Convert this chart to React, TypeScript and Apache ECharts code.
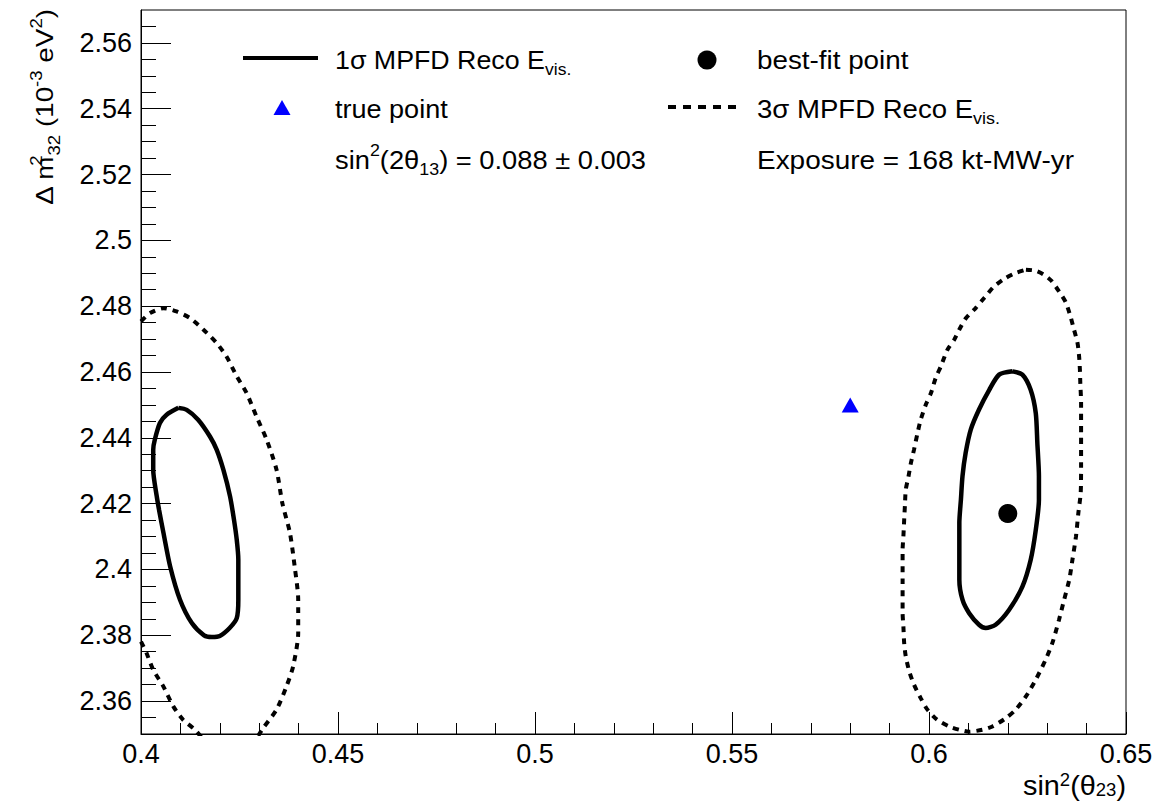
import React, { useEffect, useRef } from "react";
import * as echarts from "echarts";

// ---------- axis ticks ----------
const xMajorTicks = [0.4, 0.45, 0.5, 0.55, 0.6, 0.65];
const xMinorTicks = [0.41, 0.42, 0.43, 0.44, 0.46, 0.47, 0.48, 0.49, 0.51, 0.52, 0.53, 0.54, 0.56, 0.57, 0.58, 0.59, 0.61, 0.62, 0.63, 0.64];
const yMajorTicks = [2.36, 2.38, 2.4, 2.42, 2.44, 2.46, 2.48, 2.5, 2.52, 2.54, 2.56];
const yMinorTicks = [2.355, 2.365, 2.37, 2.375, 2.385, 2.39, 2.395, 2.405, 2.41, 2.415, 2.425, 2.43, 2.435, 2.445, 2.45, 2.455, 2.465, 2.47, 2.475, 2.485, 2.49, 2.495, 2.505, 2.51, 2.515, 2.525, 2.53, 2.535, 2.545, 2.55, 2.555, 2.565];

// ---------- contours (sin^2 theta23, dm^2_32) ----------
const leftOneSigma = [
  [0.4095, 2.4491], [0.4116, 2.4485], [0.4145, 2.4455], [0.4175, 2.4404], [0.4192, 2.4364],
  [0.4209, 2.4303], [0.4226, 2.4222], [0.4236, 2.4151], [0.4243, 2.409], [0.4247, 2.403],
  [0.4247, 2.3908], [0.4243, 2.3852], [0.4225, 2.3822], [0.42, 2.3798], [0.418, 2.3795],
  [0.416, 2.38], [0.4129, 2.3837], [0.4099, 2.3908], [0.4074, 2.4009], [0.4057, 2.4111],
  [0.4046, 2.418], [0.404, 2.4222], [0.4031, 2.4303], [0.4031, 2.4364], [0.4035, 2.4394],
  [0.4048, 2.4445], [0.4065, 2.447], [0.4095, 2.4491],
];
const leftThreeSigmaUpper = [
  [0.4, 2.4754], [0.4023, 2.4779], [0.4057, 2.4794], [0.409, 2.4784], [0.4124, 2.4764],
  [0.4158, 2.4729], [0.4192, 2.4688], [0.4217, 2.4647], [0.4243, 2.4587], [0.4268, 2.4536],
  [0.4293, 2.4465], [0.4319, 2.4394], [0.4344, 2.4303], [0.4359, 2.42], [0.4378, 2.4111],
  [0.439, 2.4009], [0.4399, 2.3908], [0.4399, 2.3807], [0.4386, 2.3705], [0.4369, 2.3644],
  [0.4344, 2.3574], [0.431, 2.3518], [0.429, 2.348],
];
const leftThreeSigmaLower = [
  [0.4, 2.3781], [0.4014, 2.3746], [0.4031, 2.3695], [0.4057, 2.3644], [0.4082, 2.3584],
  [0.4107, 2.3543], [0.4137, 2.3513], [0.416, 2.348],
];
const rightOneSigma = [
  [0.6212, 2.4602], [0.6237, 2.4592], [0.6258, 2.4546], [0.6271, 2.4475], [0.6275, 2.4384],
  [0.6279, 2.4283], [0.6279, 2.4212], [0.6271, 2.412], [0.6258, 2.4029], [0.6237, 2.3948],
  [0.6203, 2.3877], [0.6169, 2.3832], [0.6144, 2.3822], [0.6127, 2.3832], [0.6102, 2.3867],
  [0.6085, 2.3908], [0.6077, 2.3969], [0.6077, 2.4141], [0.6081, 2.4212], [0.6085, 2.4283],
  [0.6093, 2.4354], [0.6106, 2.4425], [0.6127, 2.4486], [0.6153, 2.4546], [0.6178, 2.4592],
  [0.6212, 2.4602],
];
const rightThreeSigma = [
  [0.6246, 2.4911], [0.627, 2.4908], [0.629, 2.4897], [0.631, 2.4878], [0.633, 2.4845],
  [0.6347, 2.4812], [0.6359, 2.4769], [0.6368, 2.4729], [0.6377, 2.4688], [0.6381, 2.4647],
  [0.6383, 2.4607], [0.6384, 2.4567], [0.6386, 2.4506], [0.6386, 2.4404], [0.6386, 2.4313],
  [0.6385, 2.4232], [0.6379, 2.4171], [0.6373, 2.41], [0.6364, 2.4029], [0.6356, 2.3969],
  [0.6343, 2.3908], [0.633, 2.3847], [0.6313, 2.3776], [0.6296, 2.3726], [0.6271, 2.3665],
  [0.6246, 2.3614], [0.622, 2.3574], [0.6195, 2.3548], [0.6161, 2.3523], [0.6136, 2.3513],
  [0.6102, 2.3507], [0.6077, 2.3513], [0.6051, 2.3523], [0.6021, 2.3543], [0.5996, 2.3574],
  [0.5979, 2.3609], [0.5962, 2.365], [0.595, 2.369], [0.5941, 2.3736], [0.5937, 2.3776],
  [0.5935, 2.3827], [0.5933, 2.3867], [0.5933, 2.3969], [0.5933, 2.406], [0.5935, 2.41],
  [0.5937, 2.4151], [0.5939, 2.4197], [0.5941, 2.4242], [0.5948, 2.4283], [0.5954, 2.4323],
  [0.5962, 2.4364], [0.5971, 2.4415], [0.5979, 2.4455], [0.5992, 2.4501], [0.6005, 2.4536],
  [0.6017, 2.4582], [0.603, 2.4617], [0.6047, 2.4668], [0.6064, 2.4698], [0.6077, 2.4729],
  [0.6094, 2.4764], [0.6119, 2.4795], [0.614, 2.4825], [0.6165, 2.486], [0.6195, 2.4886],
  [0.622, 2.4901], [0.6246, 2.4911],
];
const truePoint = [[0.58, 2.45]];
const bestFitPoint = [[0.62, 2.417]];

const FONT = "'Liberation Sans', Arial, Helvetica, sans-serif";

function makeRich(main: number, small: number, mainLH: number, supLH: number, subLH: number) {
  const base = { fontFamily: FONT, fill: "#000", color: "#000" };
  return {
    m: { ...base, fontSize: main, lineHeight: mainLH },
    sup: { ...base, fontSize: small, lineHeight: supLH, verticalAlign: "top" },
    supS: { ...base, fontSize: small, lineHeight: supLH, verticalAlign: "top", width: 1 },
    sub: { ...base, fontSize: small, lineHeight: subLH, verticalAlign: "bottom" },
  };
}
const legendRich = makeRich(26, 17, 36, 20, 18);
const yTitleRich = makeRich(24, 16, 34, 18, 16);
const xTitleRich = makeRich(28, 18, 28, 12, 16);

function richText(x: number, y: number, text: string, rich: any, align = "left", extra: any = {}) {
  return {
    type: "text",
    x,
    y,
    silent: true,
    ...extra,
    style: {
      text,
      rich,
      align,
      textAlign: align,
      verticalAlign: "middle",
      textVerticalAlign: "middle",
      fontFamily: FONT,
      fill: "#000",
    },
  };
}

const lineSeries = (data: number[][], dashed: boolean) => ({
  type: "line",
  data,
  xAxisIndex: 0,
  yAxisIndex: 0,
  showSymbol: false,
  symbol: "none",
  smooth: 0.25,
  clip: true,
  silent: true,
  lineStyle: { color: "#000", width: dashed ? 4 : 4.5, type: dashed ? [6, 6] : "solid", opacity: 1 },
});

export default function App() {
  const ref = useRef<HTMLDivElement>(null);
  useEffect(() => {
    if (!ref.current) return;
    const chart = echarts.init(ref.current, undefined, { renderer: "svg" });
    const axisCommon = {
      type: "value",
      splitLine: { show: false },
      gridIndex: 0,
    };
    const tickLabel = {
      fontSize: 27,
      fontFamily: FONT,
      color: "#000",
      formatter: (v: number) => String(v),
    };
    const option: any = {
      animation: false,
      backgroundColor: "#ffffff",
      grid: {
        left: 141,
        top: 10,
        width: 985,
        height: 724,
        show: true,
        borderColor: "#000",
        borderWidth: 1,
        containLabel: false,
        outerBoundsMode: "none",
      },
      xAxis: [
        {
          ...axisCommon,
          min: 0.4,
          max: 0.65,
          position: "bottom",
          axisLine: { show: true, onZero: false, lineStyle: { color: "#000", width: 1 } },
          axisTick: { show: true, inside: true, length: 22, customValues: xMajorTicks, lineStyle: { color: "#000", width: 1 } },
          axisLabel: { show: true, customValues: xMajorTicks, margin: 6, ...tickLabel },
        },
        {
          ...axisCommon,
          min: 0.4,
          max: 0.65,
          position: "bottom",
          axisLine: { show: false, onZero: false },
          axisTick: { show: true, inside: true, length: 11, customValues: xMinorTicks, lineStyle: { color: "#000", width: 1 } },
          axisLabel: { show: false },
        },
      ],
      yAxis: [
        {
          ...axisCommon,
          min: 2.35,
          max: 2.57,
          position: "left",
          axisLine: { show: true, onZero: false, lineStyle: { color: "#000", width: 1 } },
          axisTick: { show: true, inside: true, length: 30, customValues: yMajorTicks, lineStyle: { color: "#000", width: 1 } },
          axisLabel: { show: true, customValues: yMajorTicks, margin: 9, ...tickLabel },
        },
        {
          ...axisCommon,
          min: 2.35,
          max: 2.57,
          position: "left",
          axisLine: { show: false, onZero: false },
          axisTick: { show: true, inside: true, length: 15, customValues: yMinorTicks, lineStyle: { color: "#000", width: 1 } },
          axisLabel: { show: false },
        },
      ],
      series: [
        lineSeries(leftThreeSigmaUpper, true),
        lineSeries(leftThreeSigmaLower, true),
        lineSeries(rightThreeSigma, true),
        lineSeries(leftOneSigma, false),
        lineSeries(rightOneSigma, false),
        {
          type: "scatter",
          data: truePoint,
          xAxisIndex: 0,
          yAxisIndex: 0,
          symbol: "triangle",
          symbolSize: [17, 15],
          itemStyle: { color: "#0000ff", opacity: 1 },
          silent: true,
        },
        {
          type: "scatter",
          data: bestFitPoint,
          xAxisIndex: 0,
          yAxisIndex: 0,
          symbol: "circle",
          symbolSize: 19,
          itemStyle: { color: "#000000", opacity: 1 },
          silent: true,
        },
      ],
      graphic: {
        elements: [
          // legend samples
          { type: "line", silent: true, shape: { x1: 243, y1: 58, x2: 318, y2: 58 }, style: { stroke: "#000", lineWidth: 4 } },
          { type: "polygon", silent: true, shape: { points: [[282, 100], [273.5, 115], [290.5, 115]] }, style: { fill: "#0000ff" } },
          { type: "circle", silent: true, shape: { cx: 707, cy: 60, r: 9.5 }, style: { fill: "#000" } },
          { type: "line", silent: true, shape: { x1: 668, y1: 107, x2: 740, y2: 107 }, style: { stroke: "#000", lineWidth: 4, lineDash: [8, 7] } },
          // legend texts
          richText(335, 60, "{m|1σ MPFD Reco E}{sub|vis.}", legendRich, "left", { scaleX: 1.03 }),
          richText(335, 109, "{m|true point}", legendRich, "left", { scaleX: 1.04 }),
          richText(335, 160, "{m|sin}{sup|2}{m|(2θ}{sub|13}{m|) = 0.088 ± 0.003}", legendRich, "left", { scaleX: 1.05 }),
          richText(757, 60, "{m|best-fit point}", legendRich, "left", { scaleX: 1.07 }),
          richText(757, 109, "{m|3σ MPFD Reco E}{sub|vis.}", legendRich, "left", { scaleX: 1.06 }),
          richText(757, 160, "{m|Exposure = 168 kt-MW-yr}", legendRich, "left", { scaleX: 1.075 }),
          // axis titles
          richText(1126, 785, "{m|sin}{sup|2}{m|(θ}{sub|23}{m|)}", xTitleRich, "right", { scaleX: 1.03 }),
          richText(45, 9, "{m|Δ m}{supS|2}{sub|32}{m| (10}{sup|-3}{m| eV}{sup|2}{m|)}", yTitleRich, "right", {
            rotation: Math.PI / 2,
            scaleX: 1.16,
          }),
        ],
      },
    };
    chart.setOption(option);
    return () => chart.dispose();
  }, []);
  return (
    <div
      ref={ref}
      style={{ position: "fixed", left: 0, top: 0, width: 1176, height: 802, background: "#fff" }}
    />
  );
}
